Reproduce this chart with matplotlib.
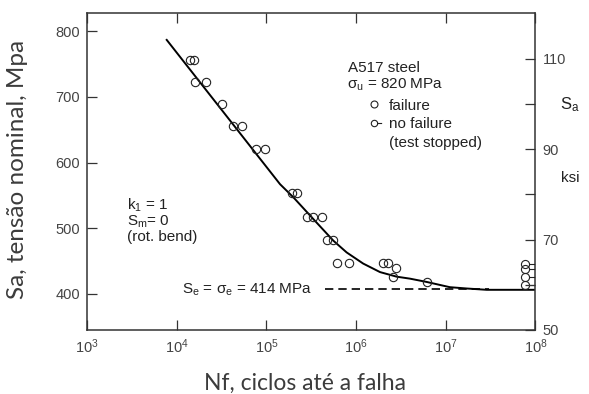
#!/usr/bin/env python3

import numpy as np
import matplotlib.pyplot as plt
from matplotlib.lines import Line2D
from matplotlib.path import Path

plt.rcParams["font.family"] = ["Liberation Sans", "DejaVu Sans"]
plt.rcParams["mathtext.fontset"] = "custom"
plt.rcParams["mathtext.rm"] = "Liberation Sans"
plt.rcParams["mathtext.it"] = "Liberation Sans"
plt.rcParams["mathtext.default"] = "regular"

# failure points (cycles, MPa)
fail_n = [1.41e4, 1.57e4, 1.60e4, 2.12e4, 3.18e4, 4.21e4, 5.38e4, 7.66e4,
          9.64e4, 1.91e5, 2.18e5, 2.81e5, 3.33e5, 4.13e5, 4.70e5, 5.57e5,
          6.17e5, 8.39e5, 1.98e6, 2.29e6, 2.79e6, 2.60e6, 6.12e6]
fail_s = [757, 757, 723, 723, 689, 656, 656, 620,
          620, 553, 553, 517, 517, 517, 482, 482,
          447, 447, 447, 447, 439, 425, 418]

# run-outs (test stopped)
runout_n = [7.7e7, 7.7e7, 7.7e7, 7.7e7]
runout_s = [446, 437, 425, 414]

# fitted S-N curve as drawn
curve_n = [7.74e3, 1.42e5, 2.0e5, 3.33e5, 5.57e5, 7.85e5, 1.2e6, 1.85e6,
           2.84e6, 3.99e6, 6.12e6, 1.11e7, 1.71e7, 2.86e7, 1e8]
curve_s = [787, 567, 547, 514, 481, 463, 446, 433,
           426, 423, 418, 410, 408, 406, 406]

# endurance limit line
endurance_n = [4.5e5, 3.0e7]
endurance_s = 407

MPA_PER_KSI = 6.895
ksi_ticks = [50, 60, 70, 80, 90, 100, 110]
ksi_labels = ["50", "", "70", "", "90", "", "110"]

# circle with a short dash to the right: run-out marker
circ = Path.unit_circle()
runout_marker = Path(
    np.concatenate([circ.vertices, [[1.0, 0.0], [2.4, 0.0]]]),
    np.concatenate([circ.codes, [Path.MOVETO, Path.LINETO]]),
)

fig = plt.figure(figsize=(5.89, 3.94), dpi=100)
ax = fig.add_axes([0.1477, 0.1624, 0.7614, 0.8046])

ax.plot(curve_n, curve_s, color="black", lw=1.4, zorder=2)
ax.plot(endurance_n, [endurance_s] * 2, color="black", lw=1.2,
        dashes=(5, 3), zorder=2)
ax.plot(fail_n, fail_s, "o", ms=6, mfc="none", mec="#222222", mew=0.8,
        zorder=3)
ax.plot(runout_n, runout_s, linestyle="none", marker=runout_marker, ms=14,
        mfc="none", mec="#222222", mew=0.8, zorder=3)

ax.set_xscale("log")
ax.set_xlim(1e3, 1e8)
ax.set_ylim(344.7, 828)
ax.set_xticks([1e3, 1e4, 1e5, 1e6, 1e7, 1e8])
ax.set_yticks([400, 500, 600, 700, 800])
ax.minorticks_off()

for sp in ax.spines.values():
    sp.set_color("#333333")
    sp.set_linewidth(1.1)

ax.tick_params(axis="both", direction="in", length=7, width=0.9,
               colors="#333333", labelcolor="#444444", labelsize=10.5, pad=5)
ax.tick_params(axis="x", top=True)

ax2 = ax.twinx()
ax2.set_ylim(344.7 / MPA_PER_KSI, 828 / MPA_PER_KSI)
ax2.set_yticks(ksi_ticks)
ax2.set_yticklabels(ksi_labels)
ax2.tick_params(axis="y", direction="in", length=7, width=0.9,
                colors="#333333", labelcolor="#444444", labelsize=10.5, pad=5)
for sp in ax2.spines.values():
    sp.set_visible(False)

ax.set_xlabel("Nf, ciclos até a falha", fontsize=16.5, color="#3c3c3c",
              family=["Lato", "DejaVu Sans"], va="center")
ax.xaxis.set_label_coords(0.486, -0.167)
ax.set_ylabel("Sa, tensão nominal, Mpa", fontsize=17.5, color="#3c3c3c",
              family=["Lato", "DejaVu Sans"], va="center")
ax.yaxis.set_label_coords(-0.154, 0.508)

txt = dict(transform=ax.transAxes, fontsize=11, color="#222222",
           va="center", ha="left")
ax.text(0.582, 0.826, "A517 steel", **txt)
ax.text(0.580, 0.773, r"$\sigma_u$ = 820 MPa", **txt)
ax.text(0.089, 0.394, r"$k_1$ = 1", **txt)
ax.text(0.089, 0.341, r"$S_m$= 0", **txt)
ax.text(0.089, 0.293, "(rot. bend)", **txt)
ax.text(0.212, 0.126, r"$S_e$ = $\sigma_e$ = 414 MPa", **txt)
ax.text(1.077, 0.71, r"$S_a$", transform=ax.transAxes, fontsize=12,
        color="#222222", ha="center", va="center")
ax.text(1.077, 0.479, "ksi", transform=ax.transAxes, fontsize=11,
        color="#222222", ha="center", va="center")

handles = [
    Line2D([], [], linestyle="none", marker="o", ms=5, mfc="none",
           mec="#222222", mew=0.8),
    Line2D([], [], linestyle="none", marker=runout_marker, ms=11,
           mfc="none", mec="#222222", mew=0.8),
    Line2D([], [], linestyle="none"),
]
ax.legend(handles, ["failure", "no failure", "(test stopped)"],
          loc="upper left", bbox_to_anchor=(0.627, 0.73), frameon=False,
          fontsize=11, borderpad=0, borderaxespad=0, handlelength=0.75,
          handletextpad=0.6, labelspacing=0.3, labelcolor="#222222")

fig.savefig("out.png", dpi=100)
